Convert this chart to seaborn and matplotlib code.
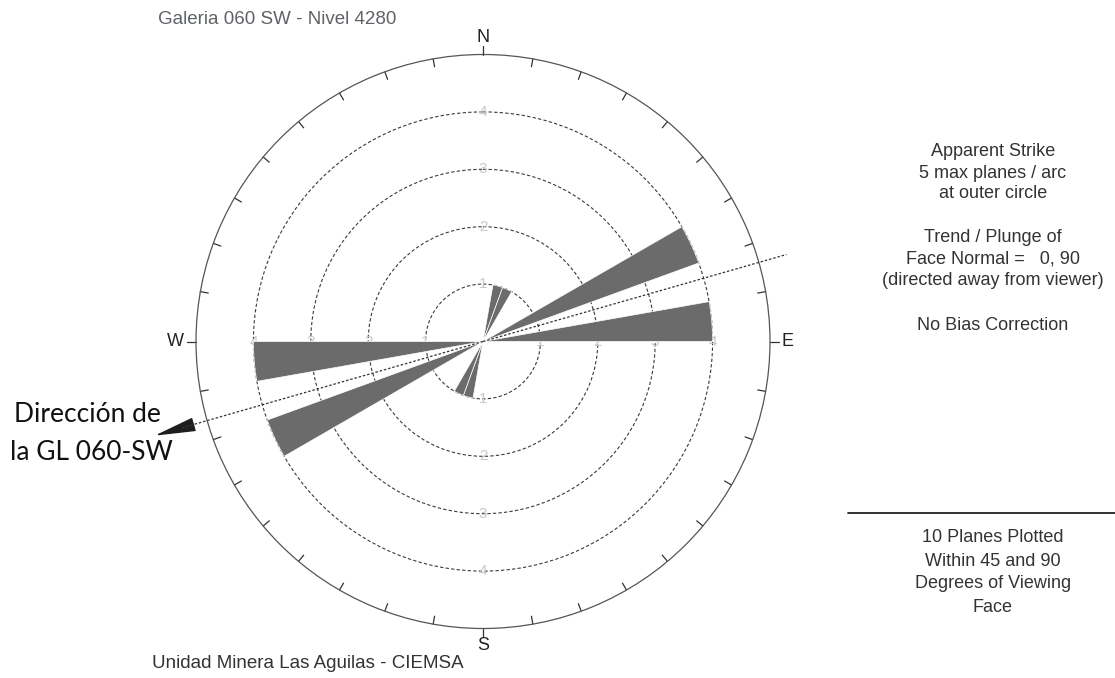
import numpy as np
import matplotlib
matplotlib.use("Agg")
import matplotlib.pyplot as plt
import seaborn as sns
from matplotlib.lines import Line2D

sns.set_theme(style="white")
plt.rcParams["font.family"] = ["Liberation Sans", "DejaVu Sans"]

# %%
# data read off the rose
strike_bins = np.array([10, 20, 60, 80])      # bin start azimuth (deg)
plane_counts = np.array([1, 1, 4, 4])         # planes per 10 deg arc
bin_width = 10
ring_values = [1, 2, 3, 4]
max_ring = 5
gallery_azimuth = 74                          # dashed direction line
cardinals = ["N", "E", "S", "W"]

title = "Galeria 060 SW - Nivel 4280"
footer = "Unidad Minera Las Aguilas - CIEMSA"
direction_label = ["Dirección de", "la GL 060-SW"]
info_lines = ["Apparent Strike", "5 max planes / arc", "at outer circle",
              "Trend / Plunge of", "Face Normal =   0, 90", "(directed away from viewer)",
              "No Bias Correction"]
info_y = [151, 173, 194, 238, 259, 280, 325]
plot_lines = ["10 Planes Plotted", "Within 45 and 90", "Degrees of Viewing", "Face"]
plot_y = [538, 561, 584, 607]

# %%
W, H = 1115, 678
fig = plt.figure(figsize=(W / 100, H / 100), dpi=100)
cx, cy, R = 483, 341.5, 287
ax = fig.add_axes([(cx - R) / W, (H - cy - R) / H, 2 * R / W, 2 * R / H], projection="polar")
ax.set_theta_zero_location("N")
ax.set_theta_direction(-1)
ax.set_ylim(0, max_ring)
ax.set_xticks([])
ax.set_yticks(ring_values)
ax.set_yticklabels([])
ax.yaxis.grid(True, linestyle=(0, (3, 2)), color="#3a3a3a", lw=0.8)
ax.xaxis.grid(False)
ax.spines["polar"].set_color("#555555")
ax.spines["polar"].set_linewidth(0.9)

# rose wedges, mirrored through the centre
theta = np.deg2rad(np.concatenate([strike_bins, strike_bins + 180]) + bin_width / 2)
counts = np.concatenate([plane_counts, plane_counts])
ax.bar(theta, counts, width=np.deg2rad(bin_width), bottom=0, color="#6b6b6b",
       edgecolor="white", linewidth=0.5, zorder=3)

# ring labels
for r in ring_values:
    for az in [0, 90, 180, 270]:
        ax.text(np.deg2rad(az), r, str(r), ha="center", va="center", fontsize=11,
                color="#c8c8c8", zorder=2)

# outer ticks
for az in range(0, 360, 10):
    t = np.deg2rad(az)
    if az % 90:
        ax.plot([t, t], [max_ring, max_ring - 0.14], color="#333333", lw=0.9, clip_on=False)
    else:
        ax.plot([t, t], [max_ring, max_ring + 0.15], color="#333333", lw=0.9, clip_on=False)

for i, lab in enumerate(cardinals):
    rr = 5.36 if lab == "W" else 5.3
    ax.text(np.deg2rad(90 * i), rr, lab, ha="center", va="center", fontsize=13,
            color="#222222")

# gallery direction
t1 = np.deg2rad(gallery_azimuth)
t2 = np.deg2rad(gallery_azimuth + 180)
ax.plot([t1, t1], [0, 5.5], color="#333333", lw=0.9, ls=(0, (2, 1.5)), clip_on=False, zorder=4)
ax.plot([t2, t2], [0, 5.45], color="#333333", lw=0.9, ls=(0, (2, 1.5)), clip_on=False, zorder=4)
ax.annotate("", xy=(t2, 6.0), xytext=(t2, 5.4), annotation_clip=False,
            arrowprops=dict(arrowstyle="-|>,head_length=1.3,head_width=0.22",
                            mutation_scale=20, color="#1e1e1e", lw=1))

# %%
# texts around
fig.text(158 / W, 1 - 20 / H, title, ha="left", va="center", fontsize=13.5, color="#5f6266")
fig.text(152 / W, 1 - 663 / H, footer, ha="left", va="center", fontsize=13.5, color="#333333")

fig.text(14 / W, 1 - 422 / H, direction_label[0], ha="left", va="baseline",
         fontsize=19, family=["Lato", "DejaVu Sans"], color="#111111")
fig.text(10 / W, 1 - 460 / H, direction_label[1], ha="left", va="baseline",
         fontsize=19, family=["Lato", "DejaVu Sans"], color="#111111")

for s, y in zip(info_lines, info_y):
    fig.text(993 / W, 1 - y / H, s, ha="center", va="center", fontsize=13, color="#333333")
for s, y in zip(plot_lines, plot_y):
    fig.text(993 / W, 1 - y / H, s, ha="center", va="center", fontsize=13, color="#333333")

fig.add_artist(Line2D([848 / W, 1], [1 - 513 / H, 1 - 513 / H], color="#222222", lw=1.3))

fig.savefig("out.png", dpi=100, facecolor="white")
